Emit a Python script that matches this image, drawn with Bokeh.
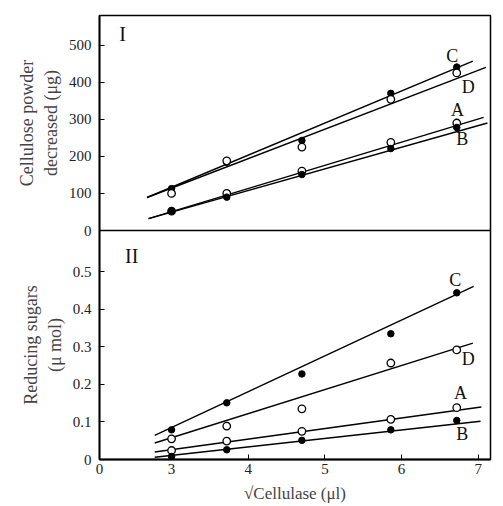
from bokeh.plotting import figure
from bokeh.layouts import column
from bokeh.models import FixedTicker, Range1d
from bokeh.core.properties import value
from bokeh.embed import file_html
from bokeh.resources import INLINE

FONT = "Liberation Serif"

# x positions (sqrt of cellulase volume)
x_pts = [3.0, 3.72, 4.70, 5.86, 6.72]

# Panel I: cellulose powder decreased (ug)
top_C = [113, 184, 243, 370, 441]
top_D = [100, 188, 225, 354, 425]
top_A = [52, 100, 160, 238, 290]
top_B = [52, 90, 151, 221, 278]

# fitted lines, panel I
top_line_x = {"C": [2.68, 6.93], "D": [2.68, 7.10], "A": [2.70, 7.07], "B": [2.70, 7.12]}
top_line_y = {"C": [89, 457], "D": [89, 440], "A": [32, 305], "B": [32, 290]}

# Panel II: reducing sugars (umol)
bot_C = [0.079, 0.151, 0.228, 0.335, 0.444]
bot_D = [0.055, 0.089, 0.135, 0.257, 0.292]
bot_A = [0.024, 0.049, 0.075, 0.107, 0.138]
bot_B = [0.008, 0.026, 0.051, 0.079, 0.104]

bot_line_x = {"C": [2.78, 6.94], "D": [2.78, 6.93], "A": [2.78, 7.04], "B": [2.78, 7.03]}
bot_line_y = {"C": [0.064, 0.461], "D": [0.044, 0.310], "A": [0.020, 0.140], "B": [0.006, 0.102]}

# curve labels
top_lab_names = ["C", "D", "A", "B"]
top_lab_x = [6.66, 6.87, 6.73, 6.79]
top_lab_y = [472, 386, 324, 248]
bot_lab_names = ["C", "D", "A", "B"]
bot_lab_x = [6.70, 6.87, 6.77, 6.79]
bot_lab_y = [0.477, 0.269, 0.176, 0.069]

top_ticks = [0, 100, 200, 300, 400, 500]
bot_ticks = [0, 0.1, 0.2, 0.3, 0.4, 0.5]
x_ticks = [3, 4, 5, 6, 7]

X0, X1 = 2.06, 7.16
TOP_MAX = 580
BOT_MAX = 0.61

x_range = Range1d(X0, X1)


def style(p):
    p.grid.visible = False
    p.outline_line_color = "black"
    p.outline_line_width = 1.5
    p.background_fill_color = "white"
    p.border_fill_alpha = 0
    for ax in p.yaxis:
        ax.axis_line_width = 1.8
        ax.major_tick_in = 5
        ax.major_tick_out = 0
        ax.minor_tick_line_color = None
        ax.major_label_text_font = FONT
        ax.major_label_text_font_size = "15px"
        ax.major_label_text_color = "#222222"
        ax.major_label_standoff = 8
        ax.axis_label_text_font = FONT
        ax.axis_label_text_font_size = "18px"
        ax.axis_label_text_font_style = "normal"
        ax.axis_label_standoff = 5


p1 = figure(width=495, height=238, x_range=x_range, y_range=Range1d(0, TOP_MAX),
            x_axis_location=None, toolbar_location=None, output_backend="svg",
            min_border_top=15, min_border_bottom=8, min_border_left=99, min_border_right=5)
style(p1)
p1.yaxis.ticker = FixedTicker(ticks=top_ticks)
p1.yaxis.axis_label = "Cellulose powder\ndecreased (\u03bcg)"

for k in ["C", "D", "A", "B"]:
    p1.line(top_line_x[k], top_line_y[k], line_color="black", line_width=1.4)
p1.scatter(x_pts, top_C, size=6.5, fill_color="black", line_color="black")
p1.scatter(x_pts, top_D, size=7.5, fill_color="white", line_color="black", line_width=1.3)
p1.scatter(x_pts, top_A, size=7.5, fill_color="white", line_color="black", line_width=1.3)
p1.scatter(x_pts, top_B, size=6.5, fill_color="black", line_color="black")
p1.text(top_lab_x, top_lab_y, text=top_lab_names, text_font=value(FONT),
        text_font_size="18px", text_align="center", text_baseline="middle", text_color="#111111")
p1.text([2.36], [531], text=["I"], text_font=value(FONT), text_font_size="20px",
        text_align="center", text_baseline="middle", text_color="#111111")

p2 = figure(width=495, height=275, x_range=x_range, y_range=Range1d(0, BOT_MAX),
            toolbar_location=None, output_backend="svg",
            min_border_top=0, min_border_bottom=46, min_border_left=99, min_border_right=5)
p2.margin = (-8, 0, 0, 0)
style(p2)
p2.yaxis.ticker = FixedTicker(ticks=bot_ticks)
p2.yaxis.axis_label = "Reducing sugars\n(\u03bc mol)"
ax = p2.xaxis[0]
ax.ticker = FixedTicker(ticks=[X0] + x_ticks)
ax.major_label_overrides = {X0: "0"}
ax.axis_line_width = 1.8
ax.major_tick_in = 5
ax.major_tick_out = 0
ax.minor_tick_line_color = None
ax.major_label_text_font = FONT
ax.major_label_text_font_size = "15px"
ax.major_label_text_color = "#222222"
ax.major_label_standoff = 4
ax.axis_label = "\u221aCellulase (\u03bcl)"
ax.axis_label_text_font = FONT
ax.axis_label_text_font_size = "17px"
ax.axis_label_text_font_style = "normal"
ax.axis_label_standoff = 7

for k in ["C", "D", "A", "B"]:
    p2.line(bot_line_x[k], bot_line_y[k], line_color="black", line_width=1.4)
p2.scatter(x_pts, bot_C, size=6.5, fill_color="black", line_color="black")
p2.scatter(x_pts, bot_D, size=7.5, fill_color="white", line_color="black", line_width=1.3)
p2.scatter(x_pts, bot_A, size=7.5, fill_color="white", line_color="black", line_width=1.3)
p2.scatter(x_pts, bot_B, size=6.5, fill_color="black", line_color="black")
p2.text(bot_lab_x, bot_lab_y, text=bot_lab_names, text_font=value(FONT),
        text_font_size="18px", text_align="center", text_baseline="middle", text_color="#111111")
p2.text([2.48], [0.543], text=["II"], text_font=value(FONT), text_font_size="20px",
        text_align="center", text_baseline="middle", text_color="#111111")

layout = column(p1, p2, spacing=0)
open("out.html", "w").write(file_html(layout, INLINE))
